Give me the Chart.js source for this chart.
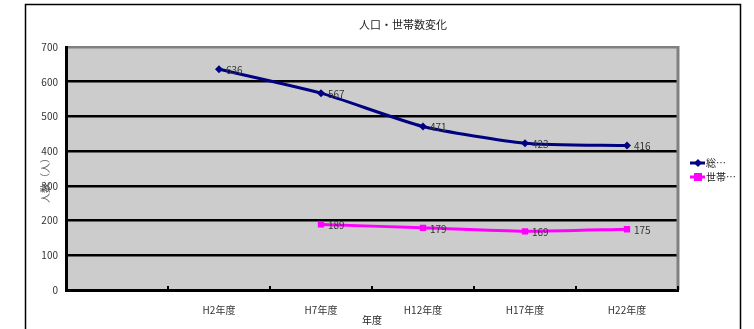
<!DOCTYPE html>
<html><head><meta charset="utf-8">
<script src="https://cdn.jsdelivr.net/npm/chart.js@4"></script>
<style>html,body{margin:0;padding:0;background:#fff}</style>
</head><body>
<canvas id="c" width="754" height="329"></canvas>
<script>
// 人口・世帯数の推移
const categories = ['', 'H2年度', 'H7年度', 'H12年度', 'H17年度', 'H22年度'];
const totalPopulation = [null, 636, 567, 471, 423, 416];
const households = [null, null, 189, 179, 169, 175];
const seriesLabels = ['総…', '世帯…'];
const chartTitle = '人口・世帯数変化';
const xAxisTitle = '年度';
const yAxisTitle = '人数（人）';
const yMin = 0, yMax = 700, yStep = 100;

const FONT = '"Noto Sans CJK JP", "Noto Sans", sans-serif';
const NAVY = '#000080';
const MAGENTA = '#ff00ff';

const decorations = {
  id: 'decorations',
  beforeDraw(chart) {
    const ctx = chart.ctx, a = chart.chartArea;
    ctx.save();
    ctx.fillStyle = '#fff';
    ctx.fillRect(0, 0, chart.width, chart.height);
    // outer frame
    ctx.strokeStyle = '#000';
    ctx.lineWidth = 1.5;
    ctx.strokeRect(25.5, 4.5, 715, 340);
    // plot background
    ctx.fillStyle = '#cccccc';
    ctx.fillRect(a.left, a.top, a.right - a.left, a.bottom - a.top);
    ctx.restore();
  },
  beforeDatasetsDraw(chart) {
    const ctx = chart.ctx, a = chart.chartArea, xs = chart.scales.x;
    ctx.save();
    // right edge of plot
    ctx.strokeStyle = '#808080';
    ctx.lineWidth = 3;
    ctx.beginPath();
    ctx.moveTo(a.right, a.top - 1);
    ctx.lineTo(a.right, a.bottom);
    ctx.stroke();
    // category boundary marks
    const n = categories.length;
    const step = (xs.getPixelForValue(1) - xs.getPixelForValue(0));
    ctx.strokeStyle = '#000';
    ctx.lineWidth = 2;
    for (let i = 1; i <= n; i++) {
      const x = xs.getPixelForValue(i) - step / 2;
      ctx.beginPath();
      ctx.moveTo(x, a.bottom);
      ctx.lineTo(x, a.bottom - 4);
      ctx.stroke();
    }
    ctx.restore();
  },
  afterDatasetsDraw(chart) {
    const ctx = chart.ctx;
    ctx.save();
    ctx.font = '10px ' + FONT;
    ctx.fillStyle = '#333';
    ctx.textAlign = 'left';
    ctx.textBaseline = 'middle';
    chart.data.datasets.forEach((ds, di) => {
      const meta = chart.getDatasetMeta(di);
      ds.data.forEach((v, i) => {
        if (v === null) return;
        const p = meta.data[i];
        ctx.fillText(String(v), p.x + 7, p.y + 1);
      });
    });
    ctx.restore();
  },
  afterDraw(chart) {
    const ctx = chart.ctx, a = chart.chartArea;
    ctx.save();
    ctx.fillStyle = '#222';
    ctx.textAlign = 'center';
    ctx.textBaseline = 'middle';
    ctx.font = '11px ' + FONT;
    ctx.fillText(chartTitle, 403, 25);
    ctx.font = '10px ' + FONT;
    ctx.fillText(xAxisTitle, (a.left + a.right) / 2, 320);
    ctx.save();
    ctx.translate(45, 178);
    ctx.rotate(-Math.PI / 2);
    ctx.fillStyle = '#555';
    ctx.fillText(yAxisTitle, 0, 0);
    ctx.restore();
    // legend
    const items = [
      { y: 163, color: NAVY, shape: 'diamond' },
      { y: 177, color: MAGENTA, shape: 'square' }
    ];
    ctx.textAlign = 'left';
    ctx.font = '10px ' + FONT;
    items.forEach((it, i) => {
      ctx.strokeStyle = it.color;
      ctx.fillStyle = it.color;
      ctx.lineWidth = 3;
      ctx.beginPath();
      ctx.moveTo(690, it.y);
      ctx.lineTo(705, it.y);
      ctx.stroke();
      const cx = 698;
      ctx.beginPath();
      if (it.shape === 'diamond') {
        ctx.moveTo(cx, it.y - 4); ctx.lineTo(cx + 4, it.y);
        ctx.lineTo(cx, it.y + 4); ctx.lineTo(cx - 4, it.y);
      } else {
        ctx.rect(cx - 4, it.y - 4, 8, 8);
      }
      ctx.closePath();
      ctx.fill();
      ctx.fillStyle = '#222';
      ctx.fillText(seriesLabels[i], 706, it.y);
    });
    ctx.restore();
  }
};

new Chart(document.getElementById('c'), {
  type: 'line',
  data: {
    labels: categories,
    datasets: [
      {
        label: seriesLabels[0],
        data: totalPopulation,
        borderColor: NAVY,
        backgroundColor: NAVY,
        borderWidth: 3,
        pointStyle: 'rectRot',
        pointRadius: 4,
        pointBorderWidth: 0,
        tension: 0.2,
        spanGaps: false
      },
      {
        label: seriesLabels[1],
        data: households,
        borderColor: MAGENTA,
        backgroundColor: MAGENTA,
        borderWidth: 3,
        pointStyle: 'rect',
        pointRadius: 4.5,
        pointBorderWidth: 0,
        tension: 0.2,
        spanGaps: false
      }
    ]
  },
  options: {
    responsive: false,
    animation: false,
    devicePixelRatio: 1,
    layout: { padding: { top: 47, right: 76, bottom: 0, left: 0 } },
    plugins: { legend: { display: false }, title: { display: false }, tooltip: { enabled: false } },
    scales: {
      x: {
        offset: true,
        grid: { display: false, drawTicks: false, offset: true },
        border: { display: true, color: '#000', width: 3 },
        ticks: { color: '#333', font: { family: FONT, size: 10 }, padding: 14, maxRotation: 0, autoSkip: false },
        afterFit(s) { s.height = 39; }
      },
      y: {
        min: yMin, max: yMax,
        grid: {
          drawTicks: false,
          lineWidth: 2.5,
          color: (c) => (c.tick && c.tick.value === yMax ? '#808080' : '#000')
        },
        border: { display: true, color: '#000', width: 3 },
        ticks: { stepSize: yStep, color: '#333', font: { family: FONT, size: 10 }, padding: 8 },
        afterFit(s) { s.width = 66; }
      }
    }
  },
  plugins: [decorations]
});
</script>
</body></html>
